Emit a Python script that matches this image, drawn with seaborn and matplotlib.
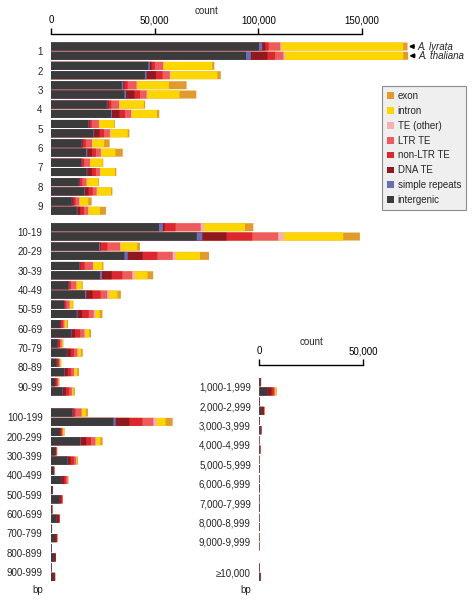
"""Lengths of gaps between features in A. lyrata and A. thaliana, split by annotation."""

import matplotlib.pyplot as plt
import pandas as pd
import seaborn as sns
from matplotlib.patches import Patch
from matplotlib.ticker import FuncFormatter


MAIN_LABELS = ["1", "2", "3", "4", "5", "6", "7", "8", "9",
               "10-19", "20-29", "30-39", "40-49", "50-59", "60-69", "70-79", "80-89", "90-99",
               "100-199", "200-299", "300-399", "400-499", "500-599", "600-699", "700-799",
               "800-899", "900-999"]
INSET_LABELS = ["1,000-1,999", "2,000-2,999", "3,000-3,999", "4,000-4,999", "5,000-5,999",
                "6,000-6,999", "7,000-7,999", "8,000-8,999", "9,000-9,999", "\u226510,000"]

COMPONENTS = ["intergenic", "simple repeats", "DNA TE", "non-LTR TE", "LTR TE",
              "TE (other)", "intron", "exon"]
COLORS = ["#3b3b3b", "#6a6fb5", "#8e1a1f", "#dc2630", "#ee5b5e", "#f2b2b4", "#fdd600", "#e19b2c"]

# counts in thousands; 27 main rows followed by 10 inset rows
LYR_INTERGENIC = [100.3, 46.9, 34.1, 26.9, 18.0, 14.8, 14.5, 13.4, 10.0,
                  52.1, 23.2, 13.7, 8.4, 6.3, 4.3, 3.2, 2.7, 1.9,
                  10.3, 4.3, 1.9, 1.1, 0.6, 0.4, 0.3, 0.2, 0.2,
                  0.5, 0.2, 0.15, 0.1, 0.1, 0.1, 0.1, 0.1, 0.1, 0.15]
LYR_SIMPLE = [1.6, 0.8, 0.8, 0.3, 0.2, 0.2, 0.2, 0.2, 0.2,
              1.9, 0.5, 0.2, 0.1, 0.1, 0.1, 0.05, 0.05, 0.05,
              0.2, 0.1, 0.05, 0, 0, 0, 0, 0, 0,
              0, 0, 0, 0, 0, 0, 0, 0, 0, 0]
LYR_DNA = [1.5, 0.8, 0.5, 0.6, 0.4, 0.4, 0.3, 0.3, 0.6,
           0.8, 0.3, 0.3, 0.2, 0.2, 0.3, 0.3, 0.3, 0.3,
           0.3, 0.3, 0.4, 0.4, 0.3, 0.2, 0.15, 0.1, 0.1,
           0.3, 0.1, 0.1, 0.05, 0.05, 0.05, 0.05, 0.05, 0.05, 0.1]
LYR_NONLTR = [1.6, 1.6, 1.6, 1.3, 1.0, 1.4, 1.0, 1.2, 1.0,
              5.3, 3.2, 2.0, 0.9, 0.8, 1.0, 0.8, 0.7, 0.8,
              1.0, 0.5, 0.3, 0.1, 0.05, 0.05, 0.05, 0.03, 0.03,
              0.05, 0, 0, 0, 0, 0, 0, 0, 0, 0]
LYR_LTR = [5.6, 4.0, 4.3, 3.7, 3.5, 3.0, 2.8, 2.0, 1.8,
           12.1, 6.1, 4.0, 2.6, 1.6, 0.8, 0.8, 0.5, 0.5,
           2.9, 0.5, 0.2, 0.05, 0, 0, 0, 0, 0,
           0, 0, 0, 0, 0, 0, 0, 0, 0, 0]
LYR_TE_OTHER = [0.6, 0.2, 0.3, 0.3, 0.2, 0.2, 0.2, 0.2, 0.2,
                1.6, 0.3, 0.3, 0.2, 0.1, 0.1, 0.05, 0.05, 0.05,
                0.2, 0.05, 0, 0, 0, 0, 0, 0, 0,
                0, 0, 0, 0, 0, 0, 0, 0, 0, 0]
LYR_INTRON = [58.7, 23.5, 15.3, 11.7, 7.2, 5.6, 5.9, 5.5, 4.2,
              19.8, 8.0, 4.2, 2.4, 1.4, 1.1, 0.5, 0.5, 0.3,
              1.9, 0.5, 0.1, 0.05, 0, 0, 0, 0, 0,
              0, 0, 0, 0, 0, 0, 0, 0, 0, 0]
LYR_EXON = [2.1, 1.0, 8.5, 0.6, 0.3, 2.7, 0.3, 0.3, 1.6,
            4.0, 1.3, 0.6, 0.5, 0.3, 0.5, 0.3, 0.2, 0.2,
            1.0, 0.3, 0.1, 0.05, 0, 0, 0, 0, 0,
            0, 0, 0, 0, 0, 0, 0, 0, 0, 0]

THA_INTERGENIC = [94.1, 45.3, 35.4, 28.9, 20.4, 16.9, 17.2, 15.9, 12.4,
                  70.3, 35.4, 23.6, 16.4, 12.4, 9.6, 7.6, 6.4, 5.5,
                  30.1, 14.0, 8.0, 4.8, 4.0, 2.7, 1.9, 1.4, 1.1,
                  3.7, 1.1, 0.6, 0.3, 0.2, 0.2, 0.15, 0.15, 0.1, 0.4]
THA_SIMPLE = [2.3, 0.8, 0.8, 0.5, 0.3, 0.6, 0.3, 0.3, 0.3,
              2.7, 1.6, 1.0, 0.6, 0.4, 0.3, 0.2, 0.2, 0.2,
              1.1, 0.3, 0.2, 0.1, 0.05, 0, 0, 0, 0,
              0.1, 0, 0, 0, 0, 0, 0, 0, 0, 0]
THA_DNA = [8.0, 4.5, 4.0, 3.6, 2.7, 2.3, 2.2, 1.9, 1.4,
           11.7, 7.2, 4.7, 3.0, 2.2, 1.7, 1.7, 1.5, 1.5,
           6.6, 2.7, 1.3, 1.3, 0.8, 1.1, 0.8, 0.8, 0.8,
           2.1, 1.1, 0.4, 0.2, 0.1, 0.1, 0.1, 0.05, 0.05, 0.2]
THA_NONLTR = [3.7, 3.2, 2.7, 2.7, 2.2, 1.9, 1.9, 2.0, 1.8,
              12.4, 7.1, 5.1, 3.9, 3.2, 2.4, 1.6, 1.6, 1.6,
              6.3, 2.3, 1.6, 1.1, 0.6, 0.4, 0.3, 0.2, 0.1,
              1.1, 0.2, 0, 0, 0, 0, 0, 0, 0, 0]
THA_LTR = [4.0, 3.5, 3.2, 2.9, 2.8, 2.3, 2.0, 1.9, 2.0,
           12.5, 7.4, 4.8, 3.2, 2.4, 2.1, 1.6, 1.4, 1.3,
           5.3, 2.1, 1.0, 0.7, 0.2, 0.1, 0.05, 0, 0,
           0.5, 0.05, 0, 0, 0, 0, 0, 0, 0, 0]
THA_TE_OTHER = [0.8, 0.4, 0.3, 0.3, 0.3, 0.3, 0.2, 0.2, 0.2,
                2.9, 1.6, 1.3, 1.0, 0.8, 0.4, 0.3, 0.3, 0.2,
                1.6, 0.4, 0.2, 0.1, 0, 0, 0, 0, 0,
                0.1, 0, 0, 0, 0, 0, 0, 0, 0, 0]
THA_INTRON = [57.0, 22.6, 15.6, 12.2, 8.3, 6.8, 7.1, 6.8, 5.5,
              28.5, 11.6, 6.1, 4.0, 2.1, 2.0, 1.5, 1.3, 0.6,
              4.3, 2.0, 0.4, 0.2, 0, 0, 0, 0, 0,
              0.4, 0, 0, 0, 0, 0, 0, 0, 0, 0]
THA_EXON = [2.4, 1.6, 8.1, 1.1, 0.8, 3.5, 0.6, 0.6, 2.9,
            8.0, 4.3, 2.7, 1.6, 1.3, 0.8, 0.8, 0.8, 0.6,
            3.4, 1.1, 0.3, 0.1, 0, 0, 0, 0, 0,
            0.4, 0, 0, 0, 0, 0, 0, 0, 0, 0]

LYRATA = [LYR_INTERGENIC, LYR_SIMPLE, LYR_DNA, LYR_NONLTR, LYR_LTR, LYR_TE_OTHER, LYR_INTRON, LYR_EXON]
THALIANA = [THA_INTERGENIC, THA_SIMPLE, THA_DNA, THA_NONLTR, THA_LTR, THA_TE_OTHER, THA_INTRON, THA_EXON]

W, H = 475, 601
PX_PER_K = 2.073      # horizontal pixels per 1,000 counts
PX_PER_ROW = 19.37    # vertical pixels per row
ROW0_PX = 51.15       # pixel height of the first row centre
PAIR = 0.24           # offset of each species from the row centre


def row_positions():
    main = [i + [0.0, 0.33, 0.90][i // 9] for i in range(len(MAIN_LABELS))]
    inset = [17.33 + i for i in range(len(INSET_LABELS) - 1)] + [26.9]
    return main, inset


def build_table(positions):
    rows = []
    for species, comps, offset in [("A. lyrata", LYRATA, -PAIR), ("A. thaliana", THALIANA, PAIR)]:
        for i, pos in enumerate(positions):
            row = {"species": species, "row": i, "pos": round(pos + offset, 3)}
            total = 0.0
            for name, values in zip(COMPONENTS, comps):
                total += values[i] * 1000
                row[name] = total
            rows.append(row)
    return pd.DataFrame(rows)


def draw_stack(ax, table):
    # draw cumulative sums from the outermost layer inwards
    for z, (name, color) in enumerate(reversed(list(zip(COMPONENTS, COLORS)))):
        sns.barplot(data=table, x=name, y="pos", orient="h", native_scale=True,
                    color=color, saturation=1, width=0.86, errorbar=None,
                    linewidth=0, snap=False, zorder=2 + z, ax=ax)


def style_axis(ax, xmax, tick_max, ticks, ylim, yticks, ylabels):
    ax.set_xlim(0, xmax)
    ax.set_ylim(*ylim)
    for side in ["right", "bottom", "left"]:
        ax.spines[side].set_visible(False)
    ax.spines["top"].set_bounds(0, tick_max)
    ax.spines["top"].set_linewidth(1.0)
    ax.spines["top"].set_color("black")
    ax.xaxis.tick_top()
    ax.set_xticks(ticks)
    ax.xaxis.set_major_formatter(FuncFormatter(lambda v, p: f"{v:,.0f}"))
    ax.tick_params(axis="x", direction="out", length=4.3, width=1.0, pad=2,
                   labelsize=7, colors="black")
    ax.set_yticks(yticks, labels=ylabels)
    ax.tick_params(axis="y", length=0, pad=6, labelsize=7)
    ax.set_xlabel("")
    ax.set_ylabel("")
    ax.text(tick_max / 2, ylim[1] - 1.2, "count", ha="center", va="center", fontsize=7)


sns.set_theme(style="white")
plt.rcParams["font.family"] = ["Liberation Sans", "DejaVu Sans"]

main_pos, inset_pos = row_positions()
n_main = len(MAIN_LABELS)
table = build_table(main_pos + inset_pos)
main_table = table[table["row"] < n_main]
inset_table = table[table["row"] >= n_main]

y_bottom = (H - ROW0_PX) / PX_PER_ROW
bp_pos = (589 - ROW0_PX) / PX_PER_ROW

fig = plt.figure(figsize=(W / 100, H / 100), dpi=100)

main_top = 34
ax = fig.add_axes([51 / W, 0, (W - 51) / W, (H - main_top) / H])
draw_stack(ax, main_table)
style_axis(ax, (W - 51) / PX_PER_K * 1000, 150000, [0, 50000, 100000, 150000],
           (y_bottom, -(ROW0_PX - main_top) / PX_PER_ROW),
           main_pos + [bp_pos], MAIN_LABELS + ["bp"])

inset_top = 365
inset_left = 259.3
ax2 = fig.add_axes([inset_left / W, 0, (W - inset_left) / W, (H - inset_top) / H])
ax2.patch.set_alpha(0)
draw_stack(ax2, inset_table)
style_axis(ax2, (W - inset_left) / PX_PER_K * 1000, 50000, [0, 50000],
           (y_bottom, (inset_top - ROW0_PX) / PX_PER_ROW),
           inset_pos + [bp_pos], INSET_LABELS + ["bp"])

for species in ["A. lyrata", "A. thaliana"]:
    first = main_table[(main_table["species"] == species) & (main_table["row"] == 0)]
    ax.annotate(species, xy=(first["exon"].iloc[0], first["pos"].iloc[0]),
                xytext=(7.5, 0), textcoords="offset points", ha="left", va="center",
                fontsize=7, fontstyle="italic",
                arrowprops=dict(arrowstyle="-|>", color="black", lw=1.2,
                                shrinkA=0.5, shrinkB=0.8, mutation_scale=6))

handles = [Patch(facecolor=c, edgecolor="none") for c in reversed(COLORS)]
legend = fig.legend(handles, list(reversed(COMPONENTS)), loc="upper left",
                    bbox_to_anchor=(381.7 / W, 1 - 85.7 / H), fontsize=7,
                    frameon=True, fancybox=False, framealpha=1,
                    facecolor="#efefef", edgecolor="#8c8c8c",
                    handlelength=0.7, handleheight=0.7, handletextpad=0.4,
                    labelspacing=0.5, borderpad=0.55, borderaxespad=0)
legend.get_frame().set_linewidth(0.8)

fig.savefig("out.png", dpi=100)
